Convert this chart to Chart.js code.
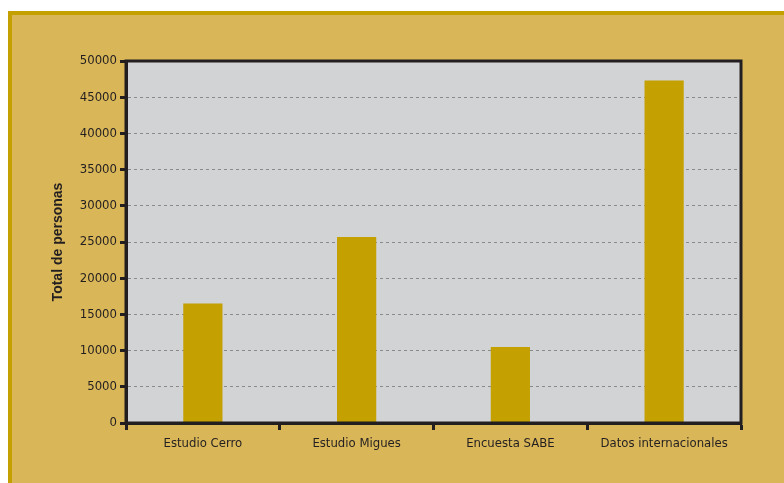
<!DOCTYPE html>
<html>
<head>
<meta charset="utf-8">
<script src="https://cdn.jsdelivr.net/npm/chart.js@4"></script>
<style>
  html, body { margin: 0; padding: 0; background: #ffffff; }
  #wrap { position: relative; width: 784px; height: 483px; overflow: hidden; }
  #panel {
    position: absolute; left: 8px; top: 11px; right: 0; bottom: 0;
    background: #d9b658;
    border-top: 4px solid #c4a000;
    border-left: 4px solid #c4a000;
  }
  #chartBox { position: absolute; left: 0; top: 0; width: 784px; height: 483px; }
</style>
</head>
<body>
<div id="wrap">
  <div id="panel"></div>
  <div id="chartBox"><canvas id="barChart" width="784" height="483"></canvas></div>
</div>
<script>
// data
const categories = ['Estudio Cerro', 'Estudio Migues', 'Encuesta SABE', 'Datos internacionales'];
const personas = [16500, 25700, 10500, 47300];
const yTicks = [0, 5000, 10000, 15000, 20000, 25000, 30000, 35000, 40000, 45000, 50000];

const tickFont = "'DejaVu Sans Condensed', 'DejaVu Sans', sans-serif";

// gray plot background and dark frame
const plotFrame = {
    id: 'plotFrame',
    beforeDraw(chart) {
        const { ctx, chartArea: a } = chart;
        ctx.save();
        ctx.fillStyle = '#d2d3d5';
        ctx.fillRect(a.left, a.top, a.right - a.left, a.bottom - a.top);
        ctx.restore();
    },
    afterDraw(chart) {
        const { ctx, chartArea: a } = chart;
        ctx.save();
        ctx.strokeStyle = '#231f20';
        ctx.lineWidth = 3;
        ctx.strokeRect(a.left, a.top, a.right - a.left, a.bottom - a.top);
        ctx.restore();
    }
};

const ctx = document.getElementById('barChart').getContext('2d');
new Chart(ctx, {
    type: 'bar',
    data: {
        labels: categories,
        datasets: [{
            label: 'Total de personas',
            data: personas,
            backgroundColor: '#c4a000',
            borderWidth: 0,
            barPercentage: 0.255,
            categoryPercentage: 1
        }]
    },
    options: {
        responsive: false,
        animation: false,
        layout: { padding: { left: 44, top: 61, right: 43, bottom: 0 } },
        plugins: { legend: { display: false }, tooltip: { enabled: false } },
        scales: {
            x: {
                afterFit(axis) { axis.height = 60; },
                grid: {
                    offset: true,
                    drawOnChartArea: false,
                    tickLength: 7,
                    tickWidth: 3,
                    tickColor: '#231f20'
                },
                border: { color: '#231f20', width: 3 },
                ticks: {
                    color: '#231f20',
                    padding: 6,
                    font: { family: tickFont, size: 13 }
                }
            },
            y: {
                min: 0,
                max: 50000,
                afterBuildTicks(axis) { axis.ticks = yTicks.map(v => ({ value: v })); },
                afterFit(axis) { axis.width = 82; },
                grid: {
                    color: '#8a8a8a',
                    lineWidth: 1,
                    tickLength: 6,
                    tickWidth: 3,
                    tickColor: '#231f20',
                    tickBorderDash: []
                },
                border: { color: '#231f20', width: 3, dash: [3, 3] },
                ticks: {
                    color: '#231f20',
                    padding: 3,
                    callback: v => String(v),
                    font: { family: tickFont, size: 13 }
                },
                title: {
                    display: true,
                    text: 'Total de personas',
                    color: '#231f20',
                    padding: { top: 6, bottom: 0 },
                    font: { family: "'Liberation Sans', sans-serif", size: 14, weight: 'bold' }
                }
            }
        }
    },
    plugins: [plotFrame]
});
</script>
</body>
</html>
